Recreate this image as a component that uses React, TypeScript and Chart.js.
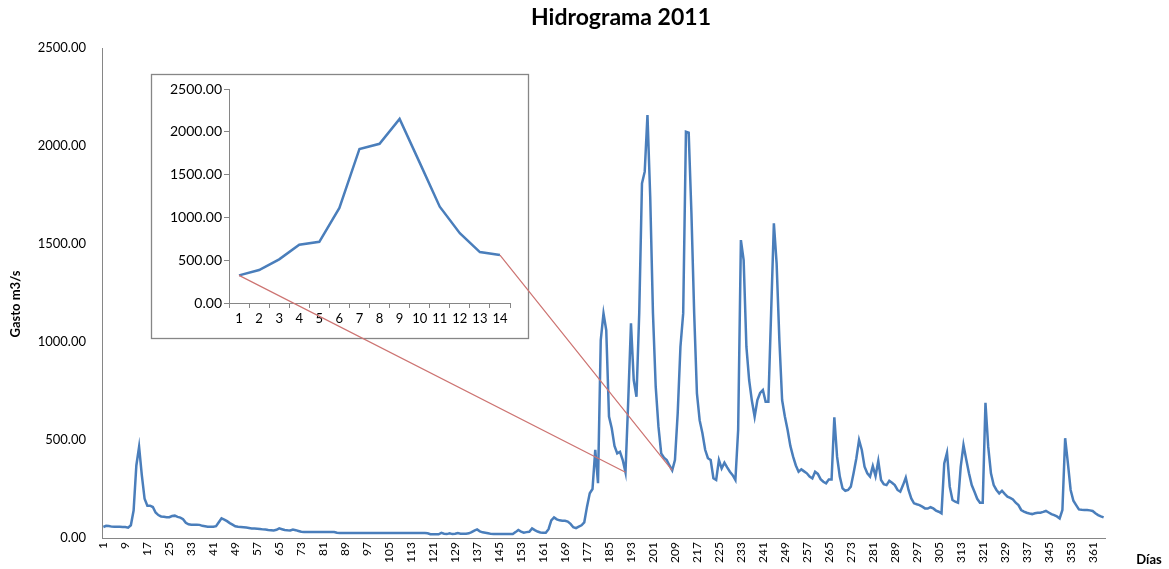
import React, { useEffect, useRef } from "react";
import { Chart, registerables } from "chart.js";

Chart.register(...registerables);

// ---------- data ----------
const days: string[] = Array.from({ length: 365 }, (_, i) => String(i + 1));

const flow: number[] = [
  56, 62, 61, 58, 57, 57, 57, 56, 56, 53,
  65, 140, 370, 465, 320, 200, 165, 165, 158, 130,
  117, 110, 108, 106, 106, 112, 114, 108, 104, 96,
  78, 70, 68, 68, 68, 67, 62, 60, 58, 57,
  57, 60, 80, 100, 94, 86, 76, 68, 60, 57,
  56, 55, 53, 51, 49, 48, 47, 46, 44, 43,
  41, 40, 38, 42, 49, 45, 41, 39, 38, 43,
  40, 36, 32, 31, 31, 31, 31, 31, 31, 31,
  31, 31, 31, 31, 31, 27, 26, 26, 26, 26,
  26, 26, 26, 26, 26, 26, 26, 26, 26, 26,
  26, 26, 26, 26, 26, 26, 26, 26, 26, 26,
  26, 26, 26, 26, 26, 26, 26, 26, 24, 19,
  19, 19, 19, 26, 22, 20, 24, 20, 22, 25,
  22, 22, 22, 24, 30, 38, 44, 34, 29, 27,
  24, 21, 20, 20, 20, 20, 20, 20, 20, 20,
  30, 41, 33, 27, 30, 32, 49, 40, 33, 28,
  27, 27, 45, 90, 105, 95, 90, 88, 88, 84,
  72, 55, 50, 58, 65, 80, 160, 228, 250, 450,
  280, 1010, 1146, 1060, 620, 560, 470, 432, 440, 398,
  335, 700, 1095, 806, 721, 1146, 1809, 1869, 2158, 1741,
  1146, 772, 568, 432, 410, 398, 370, 345, 398, 636,
  976, 1146, 2073, 2068, 1657, 1146, 738, 600, 534, 450,
  407, 398, 305, 296, 398, 355, 384, 360, 338, 321,
  296, 551, 1520, 1418, 976, 806, 700, 619, 704, 740,
  755, 695, 695, 1150, 1606, 1401, 1010, 704, 620, 551,
  470, 415, 370, 338, 350, 340, 330, 313, 304, 338,
  327, 300, 287, 279, 299, 299, 616, 415, 313, 253,
  241, 245, 262, 330, 406, 500, 449, 364, 330, 313,
  367, 316, 393, 296, 275, 270, 292, 282, 270, 245,
  236, 270, 308, 245, 202, 177, 172, 168, 160, 151,
  150, 157, 151, 140, 134, 126, 381, 435, 262, 194,
  185, 180, 364, 474, 400, 330, 270, 236, 200, 180,
  180, 690, 466, 330, 270, 245, 228, 241, 225, 211,
  205, 197, 180, 168, 143, 135, 129, 125, 122, 126,
  129, 129, 133, 138, 130, 122, 117, 110, 100, 143,
  509, 381, 245, 190, 168, 146, 144, 143, 143, 141,
  138, 126, 117, 110, 105,
];

const insetDays: string[] = ["1", "2", "3", "4", "5", "6", "7", "8", "9", "10", "11", "12", "13", "14"];
const insetFlow: number[] = [323, 385, 510, 680, 715, 1110, 1800, 1860, 2150, 1640, 1125, 815, 595, 560];

const zoomFromDay = 191;
const zoomToDay = 208;

const chartTitle = "Hidrograma 2011";
const yTitle = "Gasto m3/s";
const xTitle = "Días";

const LINE = "#4A7EBB";
const AXIS = "#868686";
const LINK = "#CD7472";
const FONT = "Lato";

export default function App() {
  const mainRef = useRef<HTMLCanvasElement | null>(null);
  const insetRef = useRef<HTMLCanvasElement | null>(null);

  useEffect(() => {
    if (!mainRef.current || !insetRef.current) return;
    Chart.defaults.font.family = FONT;
    if (flow.length !== 365) console.warn("flow length", flow.length);

    const textPlugin = {
      id: "mainText",
      afterDraw(chart: any) {
        const ctx = chart.ctx;
        ctx.save();
        ctx.fillStyle = "#000";
        ctx.textAlign = "center";
        ctx.textBaseline = "middle";
        ctx.font = `bold 23px ${FONT}`;
        ctx.fillText(chartTitle, 621, 18);
        ctx.font = `bold 13px ${FONT}`;
        ctx.fillText(xTitle, 1149, 560);
        ctx.translate(16, 304);
        ctx.rotate(-Math.PI / 2);
        ctx.fillText(yTitle, 0, 0);
        ctx.restore();
      },
    };

    const main = new Chart(mainRef.current, {
      type: "line",
      data: {
        labels: days,
        datasets: [
          {
            data: flow,
            borderColor: LINE,
            borderWidth: 2.5,
            pointRadius: 0,
            tension: 0,
            fill: false,
          },
        ],
      },
      options: {
        animation: false,
        responsive: false,
        devicePixelRatio: 1,
        layout: { padding: { left: 0, top: 48, right: 64, bottom: 0 } },
        plugins: { legend: { display: false }, title: { display: false }, tooltip: { enabled: false } },
        scales: {
          x: {
            type: "category",
            offset: true,
            grid: { display: false, drawTicks: false },
            border: { display: true, color: AXIS, width: 1 },
            ticks: {
              autoSkip: false,
              maxRotation: 90,
              minRotation: 90,
              padding: 4,
              color: "#000",
              font: { size: 12, family: FONT },
              callback: (_v: any, i: number) => (i % 8 === 0 ? days[i] : ""),
            },
            afterFit: (s: any) => {
              s.height = 31;
            },
          },
          y: {
            min: 0,
            max: 2500,
            grid: { display: false, drawTicks: false },
            border: { display: true, color: AXIS, width: 1 },
            ticks: {
              stepSize: 500,
              padding: 16,
              color: "#000",
              font: { size: 13, family: FONT },
              callback: (v: any) => Number(v).toFixed(2),
            },
            afterFit: (s: any) => {
              s.width = 102;
            },
          },
        },
      },
      plugins: [textPlugin],
    } as any);

    const insetPlugin = {
      id: "insetBox",
      beforeDraw(chart: any) {
        const ctx = chart.ctx;
        ctx.save();
        ctx.fillStyle = "#fff";
        ctx.fillRect(151, 74, 378, 265);
        ctx.strokeStyle = AXIS;
        ctx.lineWidth = 1.3;
        ctx.strokeRect(151.5, 74.5, 377, 264);
        ctx.restore();
      },
      afterDraw(chart: any) {
        const a = chart.getDatasetMeta(0).data;
        const b = main.getDatasetMeta(0).data;
        const ctx = chart.ctx;
        ctx.save();
        ctx.strokeStyle = LINK;
        ctx.lineWidth = 1.2;
        ctx.beginPath();
        ctx.moveTo(a[0].x, a[0].y);
        ctx.lineTo(b[zoomFromDay - 1].x, b[zoomFromDay - 1].y);
        ctx.moveTo(a[a.length - 1].x, a[a.length - 1].y);
        ctx.lineTo(b[zoomToDay - 1].x, b[zoomToDay - 1].y);
        ctx.stroke();
        ctx.restore();
      },
    };

    const inset = new Chart(insetRef.current, {
      type: "line",
      data: {
        labels: insetDays,
        datasets: [
          {
            data: insetFlow,
            borderColor: LINE,
            borderWidth: 2.5,
            pointRadius: 0,
            tension: 0,
            fill: false,
          },
        ],
      },
      options: {
        animation: false,
        responsive: false,
        devicePixelRatio: 1,
        layout: { padding: { left: 159, top: 89, right: 659, bottom: 238 } },
        plugins: { legend: { display: false }, title: { display: false }, tooltip: { enabled: false } },
        scales: {
          x: {
            type: "category",
            offset: true,
            grid: { display: true, drawOnChartArea: false, drawTicks: true, tickLength: 5, color: AXIS, offset: true },
            border: { display: true, color: AXIS, width: 1 },
            ticks: {
              autoSkip: false,
              maxRotation: 0,
              minRotation: 0,
              padding: 3,
              color: "#000",
              font: { size: 13, family: FONT },
            },
            afterFit: (s: any) => {
              s.height = 28;
            },
          },
          y: {
            min: 0,
            max: 2500,
            grid: { display: true, drawOnChartArea: false, drawTicks: true, tickLength: 5, color: AXIS },
            border: { display: true, color: AXIS, width: 1 },
            ticks: {
              stepSize: 500,
              padding: 2,
              color: "#000",
              font: { size: 14, family: FONT },
              callback: (v: any) => Number(v).toFixed(2),
            },
            afterFit: (s: any) => {
              s.width = 70;
            },
          },
        },
      },
      plugins: [insetPlugin],
    } as any);

    return () => {
      inset.destroy();
      main.destroy();
    };
  }, []);

  return (
    <div style={{ position: "fixed", left: 0, top: 0, width: 1169, height: 569, background: "#fff", overflow: "hidden" }}>
      <canvas ref={mainRef} width={1169} height={569} style={{ position: "absolute", left: 0, top: 0, display: "block" }} />
      <canvas ref={insetRef} width={1169} height={569} style={{ position: "absolute", left: 0, top: 0, display: "block" }} />
    </div>
  );
}
